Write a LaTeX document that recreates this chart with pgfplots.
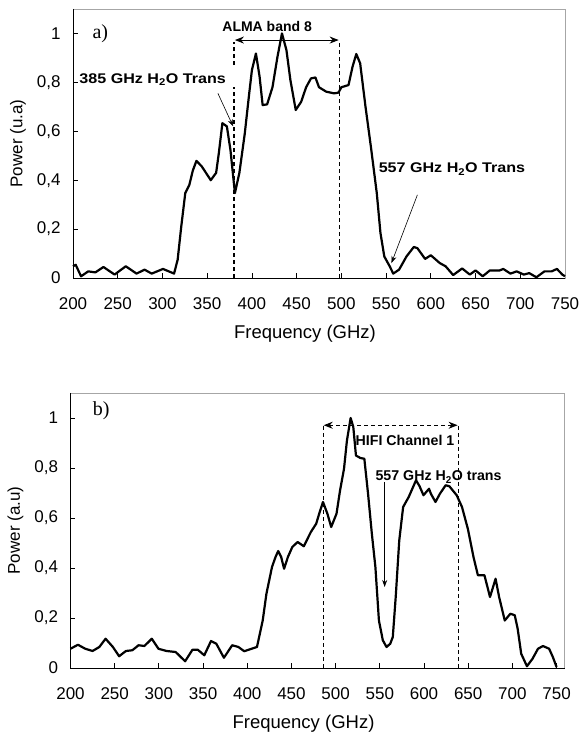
\documentclass[border=0pt]{standalone}
\usepackage{fontspec}
\setmainfont{Liberation Sans}
\newfontfamily\serif{Liberation Serif}
\newfontfamily\wide{Liberation Sans}[FakeStretch=1.15]
\usepackage{pgfplots}
\pgfplotsset{compat=1.18}
\usetikzlibrary{arrows.meta}

\pgfplotsset{
  spec/.style={
    scale only axis, xmin=200, ymin=0, ymax=1.1,
    xtick={200,250,...,750}, ytick={0,0.2,0.4,0.6,0.8,1},
    xtick pos=bottom, ytick pos=left,
    tick align=inside, major tick length=5pt,
    tick style={black, line width=0.8pt},
    axis line style={gray!70, line width=0.8pt},
    /pgf/number format/assume math mode=true,
    /pgf/number format/use comma,
    yticklabel style={/pgf/number format/fixed, xshift=-9pt},
    xticklabel style={yshift=-16pt},
    ticklabel style={font=\fontsize{17}{19}\selectfont},
    every axis x label/.style={at={(rel axis cs:0.5,0)}, anchor=center,
      xshift=-14pt, yshift=-56pt, font=\fontsize{18.5}{21}\selectfont},
    every axis y label/.style={at={(rel axis cs:0,0.5)}, anchor=center,
      rotate=90, yshift=55pt, font=\fontsize{17}{19}\selectfont},
    xlabel={Frequency (GHz)},
    clip=false,
  },
  spectrum/.style={black, line width=2.2pt, line join=round, mark=none},
}
\newcommand\ann[1]{\bfseries\fontsize{#1}{#1}\selectfont}
\newcommand\wideann{\wide\bfseries\fontsize{14}{16}\selectfont}

\begin{document}
\begin{tikzpicture}
\useasboundingbox (0,0) rectangle (579pt,738pt);

% ---- a) ALMA band 8
\begin{axis}[spec, at={(73pt,460pt)}, anchor=south west,
    width=492pt, height=269pt, xmax=750, ylabel={Power (u.a)}]
\addplot[spectrum] coordinates {
(200,0.048) (203,0.054) (209,0.007) (217,0.027) (225,0.023) (234,0.045)
(246.5,0.014) (259,0.048) (271,0.018) (280,0.034) (288,0.018) (300.6,0.037)
(313,0.018) (317,0.075) (321,0.21) (325.5,0.347) (330,0.38) (334,0.44)
(338,0.479) (344,0.456) (354,0.40) (360,0.43) (363,0.51) (367,0.633)
(372,0.62) (376,0.524) (381,0.347) (386,0.43) (392,0.59) (397,0.755)
(400,0.85) (404.5,0.918) (408.6,0.823) (412,0.707) (417,0.71) (423,0.78)
(428.6,0.905) (433.6,1.0) (438.6,0.932) (443,0.81) (449,0.687) (455,0.72)
(460.6,0.78) (466,0.816) (471,0.82) (475,0.78) (483,0.762) (491.8,0.755)
(496.8,0.758) (500,0.78) (508,0.789) (512.5,0.864) (516.7,0.916) (521,0.878)
(527,0.70) (533,0.537) (539.6,0.347) (543.7,0.184) (548,0.088) (554,0.048)
(558,0.018) (564.5,0.034) (572.8,0.088) (581,0.127) (585,0.122) (593.6,0.078)
(600,0.093) (610,0.061) (616.5,0.048) (625,0.012) (635,0.039) (643.6,0.014)
(650,0.031) (658,0.007) (666,0.031) (677,0.031) (681,0.037) (689,0.018)
(696,0.027) (704,0.014) (710,0.02) (718,0.003) (727,0.027) (735,0.027)
(741,0.037) (747,0.014) (750,0.007)
};
\draw[black, line width=0.9pt] (rel axis cs:0,1) -- (rel axis cs:0,0) -- (rel axis cs:1,0);
\draw[line width=1.5pt, dash pattern=on 4pt off 3pt] (axis cs:380,0) -- (axis cs:380,0.78);
\draw[line width=1.5pt, dash pattern=on 4pt off 3pt] (axis cs:380,0.87) -- (axis cs:380,0.966);
\draw[line width=0.8pt, dash pattern=on 4pt off 3pt] (axis cs:498,0) -- (axis cs:498,0.966);
\draw[{Stealth[length=9pt,width=7pt]}-{Stealth[length=9pt,width=7pt]}, line width=1pt]
  (axis cs:381,0.973) -- (axis cs:497,0.973);
\node[font=\ann{14}] at (axis cs:417,1.027) {ALMA band 8};
\node[font=\wideann, anchor=west, inner sep=0pt] at (axis cs:207,0.81) {385 GHz H\textsubscript{2}O Trans};
\draw[-{Stealth[length=7pt,width=5pt]}, line width=0.6pt] (axis cs:362,0.755) -- (axis cs:379,0.62);
\node[font=\wideann, anchor=west, inner sep=0pt] at (axis cs:541.6,0.445) {557 GHz H\textsubscript{2}O Trans};
\draw[-{Stealth[length=7pt,width=5pt]}, line width=0.6pt] (axis cs:585,0.34) -- (axis cs:556,0.061);
\node[font=\serif\fontsize{20}{22}\selectfont, anchor=west, inner sep=0pt] at (axis cs:221.6,1.0) {a)};
\end{axis}

% ---- b) HIFI Channel 1
\begin{axis}[spec, at={(70.5pt,70pt)}, anchor=south west,
    width=494pt, height=275pt, xmax=759, ylabel={Power (a.u)}]
\addplot[spectrum] coordinates {
(200,0.077) (208.4,0.093) (216.7,0.077) (225,0.068) (232.6,0.084) (239.7,0.117)
(248,0.084) (255,0.047) (262.7,0.068) (270,0.071) (277,0.091) (283.6,0.088)
(292,0.117) (299.5,0.077) (308.7,0.068) (319,0.064) (329.7,0.027) (338,0.073)
(344,0.073) (351.4,0.051) (359,0.108) (365,0.097) (373.6,0.041) (383,0.091)
(390,0.084) (396.6,0.067) (405,0.077) (411,0.084) (417.5,0.19) (421.7,0.297)
(428,0.404) (432,0.444) (435,0.468) (438.4,0.444) (441.7,0.397) (446,0.444)
(451,0.484) (457,0.504) (464,0.487) (472,0.544) (478,0.577) (482,0.624)
(485.7,0.664) (490.7,0.617) (495,0.564) (501,0.617) (505,0.71) (509.5,0.797)
(512.8,0.91) (517,1.0) (520,0.964) (523,0.85) (528,0.84) (532.5,0.837)
(536.7,0.697) (541,0.537) (545,0.404) (549,0.19) (553.4,0.111) (557.6,0.084)
(561.8,0.097) (564.7,0.124) (568,0.284) (572,0.51) (576.4,0.644) (582.7,0.684)
(591,0.751) (595,0.727) (599.4,0.691) (605.7,0.717) (607.8,0.697) (613,0.664)
(618,0.697) (624.5,0.731) (628.7,0.727) (637,0.691) (643,0.644) (649.6,0.557)
(656,0.444) (661,0.371) (668.4,0.371) (674.7,0.284) (681,0.357) (685,0.284)
(691.4,0.19) (697.7,0.217) (702.7,0.211) (706,0.157) (710,0.057) (716.5,0.007)
(722.8,0.037) (729,0.077) (734.6,0.088) (741.6,0.077) (745.8,0.044) (750,0.004)
};
\draw[black, line width=0.9pt] (rel axis cs:0,1) -- (rel axis cs:0,0) -- (rel axis cs:1,0);
\draw[line width=0.8pt, dash pattern=on 4pt off 3pt] (axis cs:485.7,0) -- (axis cs:485.7,0.977);
\draw[line width=1.5pt, dash pattern=on 4pt off 3pt] (axis cs:639,0) -- (axis cs:639,0.971);
\draw[{Stealth[length=9pt,width=7pt]}-{Stealth[length=9pt,width=7pt]}, line width=1pt, dash pattern=on 4pt off 3pt]
  (axis cs:486.5,0.971) -- (axis cs:638,0.971);
\node[font=\ann{14.2}, inner sep=1pt] at (axis cs:578.5,0.91) {HIFI Channel 1};
\node[font=\ann{14.2}, anchor=west, inner sep=0pt] at (axis cs:545,0.764) {557 GHz H\textsubscript{2}O trans};
\draw[-{Stealth[length=7pt,width=5pt]}, line width=0.6pt] (axis cs:555.5,0.744) -- (axis cs:555.5,0.324);
\node[font=\serif\fontsize{20}{22}\selectfont, anchor=west, inner sep=0pt] at (axis cs:225,1.03) {b)};
\end{axis}
\end{tikzpicture}
\end{document}
